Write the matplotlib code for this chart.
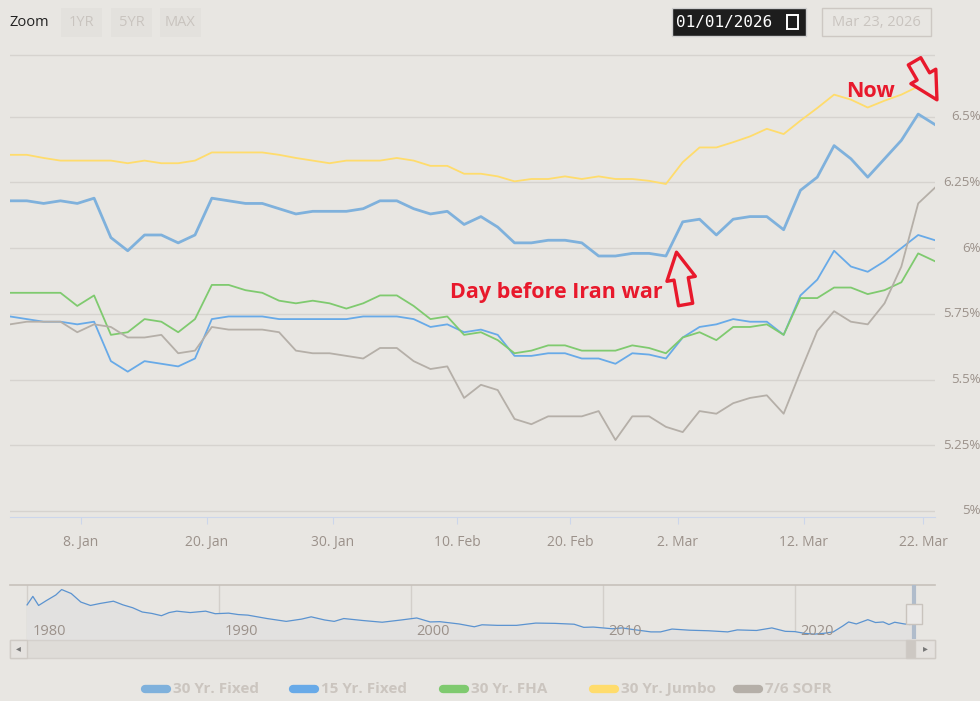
import matplotlib.pyplot as plt
from matplotlib.patches import Rectangle

W, H = 980, 701
BG = '#e8e6e2'
GRID = '#d6d3cf'
LBL = '#9b918a'
RED = '#e8192c'

# ---- data: one point per trading day, 2 Jan .. 23 Mar 2026 ----
fixed30 = [6.18, 6.18, 6.17, 6.18, 6.17, 6.19, 6.04, 5.99, 6.05, 6.05, 6.02, 6.05, 6.19, 6.18,
           6.17, 6.17, 6.15, 6.13, 6.14, 6.14, 6.14, 6.15, 6.18, 6.18, 6.15, 6.13, 6.14, 6.09,
           6.12, 6.08, 6.02, 6.02, 6.03, 6.03, 6.02, 5.97, 5.97, 5.98, 5.98, 5.97, 6.10, 6.11,
           6.05, 6.11, 6.12, 6.12, 6.07, 6.22, 6.27, 6.39, 6.34, 6.27, 6.34, 6.41, 6.51, 6.47]
fixed15 = [5.74, 5.73, 5.72, 5.72, 5.71, 5.72, 5.57, 5.53, 5.57, 5.56, 5.55, 5.58, 5.73, 5.74,
           5.74, 5.74, 5.73, 5.73, 5.73, 5.73, 5.73, 5.74, 5.74, 5.74, 5.73, 5.70, 5.71, 5.68,
           5.69, 5.67, 5.59, 5.59, 5.60, 5.60, 5.58, 5.58, 5.56, 5.60, 5.595, 5.58, 5.66, 5.70,
           5.71, 5.73, 5.72, 5.72, 5.67, 5.82, 5.88, 5.99, 5.93, 5.91, 5.95, 6.00, 6.05, 6.03]
fha30 = [5.83, 5.83, 5.83, 5.83, 5.78, 5.82, 5.67, 5.68, 5.73, 5.72, 5.68, 5.73, 5.86, 5.86,
         5.84, 5.83, 5.80, 5.79, 5.80, 5.79, 5.77, 5.79, 5.82, 5.82, 5.78, 5.73, 5.74, 5.67,
         5.68, 5.65, 5.60, 5.61, 5.63, 5.63, 5.61, 5.61, 5.61, 5.63, 5.62, 5.60, 5.66, 5.68,
         5.65, 5.70, 5.70, 5.71, 5.67, 5.81, 5.81, 5.85, 5.85, 5.825, 5.84, 5.87, 5.98, 5.95]
jumbo30 = [6.355, 6.355, 6.343, 6.333, 6.333, 6.333, 6.333, 6.323, 6.333, 6.323, 6.323, 6.333,
           6.364, 6.364, 6.364, 6.364, 6.355, 6.343, 6.333, 6.323, 6.333, 6.333, 6.333, 6.343,
           6.333, 6.313, 6.313, 6.283, 6.283, 6.273, 6.254, 6.263, 6.263, 6.273, 6.263, 6.273,
           6.263, 6.263, 6.256, 6.244, 6.327, 6.383, 6.383, 6.403, 6.425, 6.454, 6.434, 6.485,
           6.533, 6.584, 6.565, 6.535, 6.561, 6.584, 6.615, 6.606]
sofr76 = [5.71, 5.72, 5.72, 5.72, 5.68, 5.71, 5.70, 5.66, 5.66, 5.67, 5.60, 5.61, 5.70, 5.69,
          5.69, 5.69, 5.68, 5.61, 5.60, 5.60, 5.59, 5.58, 5.62, 5.62, 5.57, 5.54, 5.55, 5.43,
          5.48, 5.46, 5.35, 5.33, 5.36, 5.36, 5.36, 5.38, 5.27, 5.36, 5.36, 5.32, 5.30, 5.38,
          5.37, 5.41, 5.43, 5.44, 5.37, 5.53, 5.685, 5.76, 5.72, 5.71, 5.79, 5.93, 6.17, 6.23]
tick_pos = [4.2, 11.7, 19.2, 26.6, 33.3, 39.7, 47.2, 54.3]
tick_labels = ['8. Jan', '20. Jan', '30. Jan', '10. Feb', '20. Feb', '2. Mar', '12. Mar', '22. Mar']
y_ticks = [5.0, 5.25, 5.5, 5.75, 6.0, 6.25, 6.5]
y_labels = ['5%', '5.25%', '5.5%', '5.75%', '6%', '6.25%', '6.5%']

# long history for the navigator (30 yr fixed)
nav_years = [1980.0, 1980.3, 1980.6, 1981.0, 1981.5, 1981.8, 1982.3, 1982.8, 1983.3, 1983.8,
             1984.5, 1985.0, 1985.5, 1986.0, 1986.5, 1987.0, 1987.4, 1987.8, 1988.5, 1989.3,
             1989.8, 1990.5, 1991.0, 1991.5, 1992.5, 1993.5, 1994.3, 1994.8, 1995.5, 1996.0,
             1996.5, 1997.5, 1998.5, 1999.5, 2000.3, 2001.0, 2001.5, 2002.5, 2003.3, 2003.7,
             2004.5, 2005.5, 2006.5, 2007.5, 2008.5, 2009.0, 2009.5, 2010.5, 2011.0, 2011.5,
             2012.5, 2013.0, 2013.6, 2014.5, 2015.5, 2016.5, 2017.0, 2018.0, 2018.8, 2019.5,
             2020.0, 2020.5, 2021.0, 2021.5, 2022.0, 2022.5, 2022.8, 2023.2, 2023.8, 2024.2,
             2024.6, 2024.9, 2025.2, 2025.7, 2026.0, 2026.2]
nav_rates = [13.0, 16.0, 12.8, 14.5, 16.5, 18.4, 17.0, 14.0, 12.8, 13.5, 14.3, 13.0, 12.0, 10.5,
             10.0, 9.2, 10.3, 10.8, 10.3, 10.8, 9.9, 10.1, 9.6, 9.4, 8.2, 7.2, 8.0, 8.8, 7.7, 7.2,
             8.2, 7.5, 6.9, 7.7, 8.4, 7.0, 7.1, 6.3, 5.3, 6.0, 5.8, 5.8, 6.6, 6.5, 6.2, 5.1, 5.2,
             4.6, 4.9, 4.4, 3.5, 3.5, 4.5, 4.1, 3.9, 3.5, 4.2, 4.0, 4.9, 3.7, 3.6, 3.0, 2.7, 3.0,
             3.5, 5.6, 7.0, 6.3, 7.8, 6.8, 7.0, 6.1, 6.9, 6.3, 6.1, 6.5]
nav_decades = [1980, 1990, 2000, 2010, 2020]

series = [('30 Yr. Fixed', fixed30, '#7fb1dc', 2.0),
          ('15 Yr. Fixed', fixed15, '#68aae8', 1.3),
          ('30 Yr. FHA', fha30, '#7fca6f', 1.3),
          ('30 Yr. Jumbo', jumbo30, '#ffdc6c', 1.3),
          ('7/6 SOFR', sofr76, '#b5afa8', 1.3)]


def fx(px):
    return px / W


def fy(py):
    return 1 - py / H


fig = plt.figure(figsize=(9.8, 7.01), dpi=100, facecolor=BG)
plt.rcParams['font.family'] = ['Open Sans', 'DejaVu Sans']

# ---- main chart ----
ax = fig.add_axes([fx(10), fy(517), fx(925), (517 - 51) / H])
ax.set_facecolor(BG)
for name, vals, col, lw in series:
    ax.plot(range(len(vals)), vals, color=col, lw=lw, solid_joinstyle='round')
ax.set_xlim(0, len(fixed30) - 1)
ax.set_ylim(4.977, 6.75)
for v in y_ticks + [6.735]:
    ax.axhline(v, color=GRID, lw=1, zorder=0)
for s in ['top', 'right', 'left']:
    ax.spines[s].set_visible(False)
ax.spines['bottom'].set_color('#ccd6eb')
ax.set_yticks([])
ax.set_xticks(tick_pos)
ax.set_xticklabels(tick_labels, fontsize=10, color=LBL)
ax.tick_params(axis='x', length=5, color='#ccd6eb', pad=8)
for v, lab in zip(y_ticks, y_labels):
    ax.annotate(lab, xy=(1, v), xycoords=('axes fraction', 'data'), xytext=(33, 0),
                textcoords='offset points', ha='right', va='center', fontsize=9.5, color=LBL,
                annotation_clip=False)

arrow_style = 'simple,head_width=0.8,head_length=0.75,tail_width=0.4'
ax.text(38.8, 5.83, 'Day before Iran war', color=RED, fontsize=15.5, fontweight='bold',
        ha='right', va='center')
ax.annotate('', xy=(39.6, 5.995), xytext=(40.2, 5.775),
            arrowprops=dict(arrowstyle=arrow_style, mutation_scale=26,
                            fc=BG, ec=RED, lw=2.4), annotation_clip=False)
ax.text(49.7, 6.595, 'Now', color=RED, fontsize=15.5, fontweight='bold', ha='left', va='center')
ax.annotate('', xy=(55.2, 6.555), xytext=(53.7, 6.72),
            arrowprops=dict(arrowstyle=arrow_style, mutation_scale=26,
                            fc=BG, ec=RED, lw=2.4), annotation_clip=False)

# ---- navigator ----
nav = fig.add_axes([fx(10), fy(639), fx(925), 54 / H])
nav.set_facecolor(BG)
nav.set_xlim(1979.11, 2027.3)
nav.set_ylim(1, 20)
nav.fill_between(nav_years, nav_rates, 0, color='#e2e1e0', zorder=1)
nav.plot(nav_years, nav_rates, color='#5b93d0', lw=0.9, zorder=2)
for d in nav_decades:
    nav.axvline(d, color='#d3cfca', lw=1, zorder=0)
    nav.text(d + 0.3, 3.6, str(d), fontsize=10.5, color=LBL, va='center', ha='left')
nav.set_xticks([])
nav.set_yticks([])
for s in ['right', 'left', 'bottom']:
    nav.spines[s].set_visible(False)
nav.spines['top'].set_color('#c7c1bb')
nav.spines['top'].set_linewidth(1.2)
nav.axvline(2026.2, color='#b0bccb', lw=3, zorder=3)
nav.add_patch(Rectangle((2025.8, 6.2), 0.8, 7.2, facecolor='#ebe9e7', edgecolor='#c9c3bd',
                        lw=1, zorder=4))

# ---- scrollbar ----
fig.patches.append(Rectangle((fx(10), fy(658)), fx(925), 18 / H, transform=fig.transFigure,
                             facecolor='#dfdcd8', edgecolor='#d4d0cc', lw=1))
fig.patches.append(Rectangle((fx(10), fy(658)), fx(17), 18 / H, transform=fig.transFigure,
                             facecolor='#e5e2df', edgecolor='#cfcac5', lw=1))
fig.patches.append(Rectangle((fx(906), fy(658)), fx(9), 18 / H, transform=fig.transFigure,
                             facecolor='#cdc8c3', edgecolor='#cfcac5', lw=1))
fig.patches.append(Rectangle((fx(915), fy(658)), fx(20), 18 / H, transform=fig.transFigure,
                             facecolor='#e5e2df', edgecolor='#cfcac5', lw=1))
fig.text(fx(18.5), fy(649), '◂', fontsize=7, color='#777', ha='center', va='center')
fig.text(fx(925), fy(649), '▸', fontsize=7, color='#777', ha='center', va='center')

# ---- top controls ----
fig.text(fx(10), fy(22), 'Zoom', fontsize=10.5, color='#222', va='center')
for x0, lab in [(61, '1YR'), (111, '5YR'), (160, 'MAX')]:
    fig.patches.append(Rectangle((fx(x0), fy(37)), fx(41), 29 / H, transform=fig.transFigure,
                                 facecolor='#e3e1dd', edgecolor='none'))
    fig.text(fx(x0 + 20.5), fy(22), lab, fontsize=10.5, color='#c9c4bf', ha='center', va='center')
fig.patches.append(Rectangle((fx(672), fy(36)), fx(134), 28 / H, transform=fig.transFigure,
                             facecolor='#1d1d1d', edgecolor='#cfcfcf', lw=1))
fig.text(fx(676), fy(22), '01/01/2026', fontsize=11.5, color='white', va='center',
         family='DejaVu Sans Mono')
fig.patches.append(Rectangle((fx(787), fy(29)), fx(11), 14 / H, transform=fig.transFigure,
                             facecolor='none', edgecolor='white', lw=1.4))
fig.patches.append(Rectangle((fx(822), fy(36)), fx(109), 28 / H, transform=fig.transFigure,
                             facecolor=BG, edgecolor='#cdc8c3', lw=1))
fig.text(fx(876), fy(22), 'Mar 23, 2026', fontsize=10.5, color='#c9c4bf', ha='center',
         va='center')

# ---- legend ----
leg_x = [141, 289, 439, 589, 733]
for (name, vals, col, lw), x0 in zip(series, leg_x):
    fig.lines.append(plt.Line2D([fx(x0 + 4), fx(x0 + 26)], [fy(689), fy(689)],
                                transform=fig.transFigure, color=col, lw=6,
                                solid_capstyle='round'))
    fig.text(fx(x0 + 32), fy(689), name, fontsize=11, fontweight='bold', color='#cbc5bf',
             va='center')

plt.savefig('out.png', dpi=100, facecolor=BG)
